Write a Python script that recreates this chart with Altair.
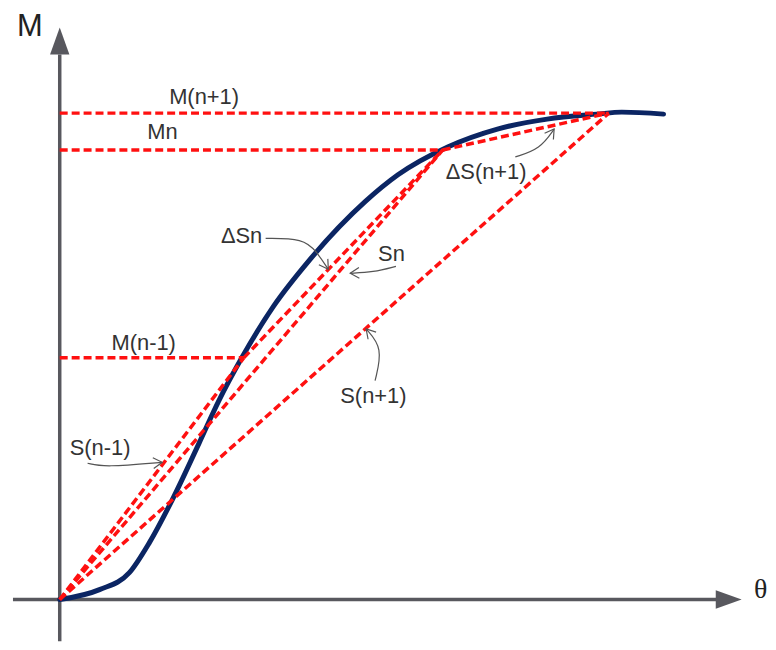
import math
import altair as alt
import pandas as pd

# ---- data (theta, M in diagram units; origin at the axes crossing) ----
curve_theta = [0, 40, 70, 90, 113, 140, 160, 183, 215, 250, 307, 340, 390, 440, 490, 540, 565, 607]
curve_M = [0, 10, 27, 57, 100, 157, 200, 243, 295, 340, 400, 427, 455, 473, 483, 488, 490, 488]

seg_names = ["M(n+1)", "Mn", "M(n-1)", "S(n-1)", "Sn", "ΔSn", "S(n+1)", "ΔS(n+1)"]
seg_theta1 = [0, 0, 0, 0, 0, 185, 0, 385]
seg_M1 = [489, 452, 243, 0, 0, 243, 0, 452]
seg_theta2 = [552, 385, 185, 185, 385, 385, 552, 552]
seg_M2 = [489, 452, 243, 243, 452, 452, 489, 489]

label_text = ["M(n+1)", "Mn", "M(n-1)", "ΔSn", "Sn", "S(n+1)", "S(n-1)", "ΔS(n+1)"]
label_theta = [110, 88, 52, 162, 320, 282, 10, 388]
label_M = [505, 470, 258, 365, 347, 205, 152, 430]

leaders = {
    "ΔSn": ([207, 245, 258, 270], [363, 363, 350, 332]),
    "Sn": ([338, 315, 292], [335, 329, 328]),
    "S(n+1)": ([317, 325, 308], [220, 253, 272]),
    "S(n-1)": ([28, 45, 103], [137, 133, 138]),
    "ΔS(n+1)": ([458, 483, 497], [445, 453, 473]),
}

axis_x_range = [-47, 660]
axis_y_range = [-42, 548]
x_dom = [-52, 708]
y_dom = [-42, 592]

# ---- tables ----
curve_df = pd.DataFrame({"theta": curve_theta, "M": curve_M})
seg_df = pd.DataFrame({"name": seg_names, "t1": seg_theta1, "m1": seg_M1,
                       "t2": seg_theta2, "m2": seg_M2})
lab_df = pd.DataFrame({"text": label_text, "theta": label_theta, "M": label_M})

rows, heads = [], []
for k, (ts, ms) in leaders.items():
    for i, (t, m) in enumerate(zip(ts, ms)):
        rows.append({"id": k, "o": i, "theta": t, "M": m})
    dx = ts[-1] - ts[-2]
    dy = -(ms[-1] - ms[-2])
    heads.append({"id": k, "theta": ts[-1], "M": ms[-1],
                  "ang": (math.degrees(math.atan2(dy, dx)) + 360) % 360})
lead_df = pd.DataFrame(rows)
head_df = pd.DataFrame(heads)

axes_df = pd.DataFrame({
    "t1": [axis_x_range[0], 0], "m1": [0, axis_y_range[0]],
    "t2": [axis_x_range[1], 0], "m2": [0, axis_y_range[1]],
})
arrow_up_df = pd.DataFrame({"theta": [0], "M": [561.5]})
arrow_right_df = pd.DataFrame({"theta": [672.5], "M": [0]})

xs = alt.Scale(domain=x_dom, nice=False, zero=False)
ys = alt.Scale(domain=y_dom, nice=False, zero=False)
X = lambda f: alt.X(f, type="quantitative", scale=xs, axis=None)
Y = lambda f: alt.Y(f, type="quantitative", scale=ys, axis=None)

AX = "#58585e"
axes = alt.Chart(axes_df).mark_rule(color=AX, strokeWidth=3.5).encode(
    x=X("t1"), y=Y("m1"), x2="t2", y2="m2")
arr_up = alt.Chart(arrow_up_df).mark_point(
    shape="M0,-1L0.72,1L-0.72,1Z", size=729, filled=True, color=AX, opacity=1
).encode(x=X("theta"), y=Y("M"))
arr_right = alt.Chart(arrow_right_df).mark_point(
    shape="M1,0L-1,-0.72L-1,0.72Z", size=676, filled=True, color=AX, opacity=1
).encode(x=X("theta"), y=Y("M"))

curve = alt.Chart(curve_df).mark_line(
    color="#0b2563", strokeWidth=5, interpolate="monotone", strokeCap="round"
).encode(x=X("theta"), y=Y("M"))

segs = alt.Chart(seg_df).mark_rule(
    color="#ff1010", strokeWidth=3.5, strokeDash=[8, 4]
).encode(x=X("t1"), y=Y("m1"), x2="t2", y2="m2")

lead = alt.Chart(lead_df).mark_line(
    color="#555555", strokeWidth=1.2, interpolate="basis"
).encode(x=X("theta"), y=Y("M"), detail="id:N", order="o:Q")
heads_m = alt.Chart(head_df).mark_point(
    shape="M-1,-0.6L0,0L-1,0.6", size=324, filled=False, color="#555555",
    strokeWidth=1.2, opacity=1
).encode(x=X("theta"), y=Y("M"), angle=alt.Angle("ang:Q", scale=None))

labels = alt.Chart(lab_df).mark_text(
    align="left", baseline="middle", font="Liberation Sans", fontSize=22, color="#333333"
).encode(x=X("theta"), y=Y("M"), text="text:N")

m_lab = alt.Chart(pd.DataFrame({"t": ["M"], "theta": [-43], "M": [576]})).mark_text(
    align="left", baseline="middle", font="Liberation Sans", fontSize=31, color="#222222"
).encode(x=X("theta"), y=Y("M"), text="t:N")
th_lab = alt.Chart(pd.DataFrame({"t": ["θ"], "theta": [698], "M": [10]})).mark_text(
    align="left", baseline="middle", font="Liberation Serif", fontSize=28, color="#222222"
).encode(x=X("theta"), y=Y("M"), text="t:N")

chart = alt.layer(axes, arr_up, arr_right, curve, segs, lead, heads_m, labels, m_lab, th_lab).properties(
    width=760, height=634, padding=0, background="white"
).configure_view(stroke=None)

chart.save("out.html", embed_options={"renderer": "svg", "actions": False})
